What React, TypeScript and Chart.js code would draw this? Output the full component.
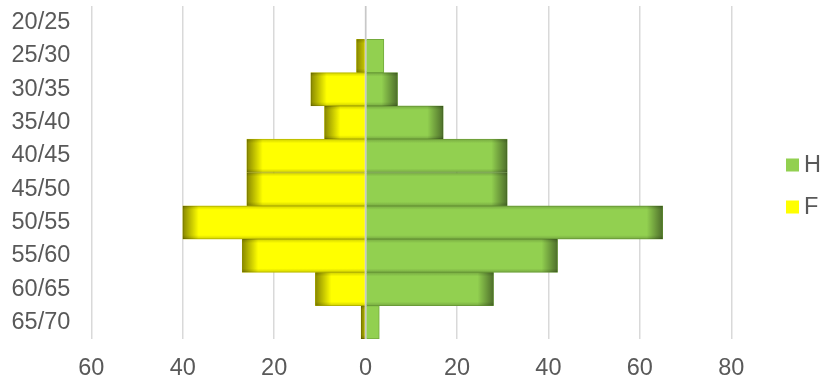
import React, { useEffect, useRef } from "react";
import { Chart, registerables } from "chart.js";

Chart.register(...registerables);

const ageGroups = ["20/25", "25/30", "30/35", "35/40", "40/45", "45/50", "50/55", "55/60", "60/65", "65/70"];
const hommes = [0, 4, 7, 17, 31, 31, 65, 42, 28, 3];
const femmes = [0, 2, 12, 9, 26, 26, 40, 27, 11, 1];
const seriesNames = ["H", "F"];
const seriesColors = ["#92D050", "#FFFF00"];
const seriesBorders = ["#74AA3C", "#C8C800"];
const xMin = -60;
const xMax = 80;
const xStep = 20;

const FONT = "'Liberation Sans', Arial, sans-serif";
const TEXT = "#595959";

const shadingPlugin = {
  id: "shading",
  afterDatasetsDraw(chart: any) {
    const ctx = chart.ctx;
    chart.data.datasets.forEach((_ds: any, di: number) => {
      const meta = chart.getDatasetMeta(di);
      meta.data.forEach((el: any) => {
        const { x, y, base, height } = el.getProps(["x", "y", "base", "height"], true);
        const left = Math.min(x, base);
        const right = Math.max(x, base);
        const w = right - left;
        if (w < 0.5) return;
        const top = y - height / 2;
        const h = height;
        const dir = x >= base ? -1 : 1;
        ctx.save();
        ctx.beginPath();
        ctx.rect(left, top, w, h);
        ctx.clip();
        if (!(dir === -1 && w < 20)) {
          const g = ctx.createLinearGradient(x, 0, x + dir * 16, 0);
          g.addColorStop(0, "rgba(0,0,0,0.47)");
          g.addColorStop(0.3, "rgba(0,0,0,0.33)");
          g.addColorStop(1, "rgba(0,0,0,0)");
          ctx.fillStyle = g;
          ctx.fillRect(left, top, w, h);
          const gt = ctx.createLinearGradient(0, top, 0, top + 4);
          gt.addColorStop(0, "rgba(0,0,0,0.18)");
          gt.addColorStop(1, "rgba(0,0,0,0)");
          ctx.fillStyle = gt;
          ctx.fillRect(left, top, w, 4);
          const gb = ctx.createLinearGradient(0, top + h, 0, top + h - 4);
          gb.addColorStop(0, "rgba(0,0,0,0.18)");
          gb.addColorStop(1, "rgba(0,0,0,0)");
          ctx.fillStyle = gb;
          ctx.fillRect(left, top + h - 4, w, 4);
        }
        ctx.restore();
      });
    });
    const xs = chart.scales.x;
    const area = chart.chartArea;
    const zx = xs.getPixelForValue(0);
    ctx.save();
    ctx.strokeStyle = "#C8C8C8";
    ctx.lineWidth = 1.5;
    ctx.beginPath();
    ctx.moveTo(zx, area.top);
    ctx.lineTo(zx, area.bottom);
    ctx.stroke();
    ctx.restore();
  },
  afterDraw(chart: any) {
    const ctx = chart.ctx;
    ctx.save();
    ctx.font = `23.5px ${FONT}`;
    ctx.textBaseline = "middle";
    ctx.textAlign = "left";
    const centers = [165, 207];
    seriesNames.forEach((name, i) => {
      ctx.fillStyle = seriesColors[i];
      ctx.fillRect(786, centers[i] - 6.5, 13, 13);
      ctx.fillStyle = TEXT;
      ctx.fillText(name, 804, centers[i] + 1);
    });
    ctx.restore();
  },
};

export default function App() {
  const ref = useRef<HTMLCanvasElement | null>(null);
  useEffect(() => {
    if (!ref.current) return;
    const chart = new Chart(ref.current, {
      type: "bar",
      data: {
        labels: ageGroups,
        datasets: [
          {
            label: seriesNames[0],
            data: hommes,
            backgroundColor: seriesColors[0],
            borderColor: seriesBorders[0],
            borderWidth: 1,
            barPercentage: 1,
            categoryPercentage: 1,
          },
          {
            label: seriesNames[1],
            data: femmes.map((v) => -v),
            backgroundColor: seriesColors[1],
            borderColor: seriesBorders[1],
            borderWidth: 1,
            barPercentage: 1,
            categoryPercentage: 1,
          },
        ],
      },
      options: {
        indexAxis: "y",
        animation: false,
        responsive: true,
        maintainAspectRatio: false,
        layout: { padding: { top: 6, right: 91.7, bottom: 0, left: 0 } },
        plugins: {
          legend: { display: false },
          tooltip: { enabled: false },
        },
        scales: {
          x: {
            stacked: true,
            min: xMin,
            max: xMax,
            ticks: {
              stepSize: xStep,
              padding: 15,
              color: TEXT,
              font: { family: FONT, size: 23.5 },
              callback: (v: any) => String(Math.abs(Number(v))),
            },
            grid: { color: "#D9D9D9", lineWidth: 1.5, drawTicks: false },
            border: { display: false },
            afterFit: (s: any) => {
              s.height = 42;
              s.paddingLeft = 0;
              s.paddingRight = 0;
            },
          },
          y: {
            stacked: true,
            ticks: {
              autoSkip: false,
              padding: 21,
              color: TEXT,
              font: { family: FONT, size: 23.5 },
            },
            grid: { display: false, drawTicks: false },
            border: { display: false },
            afterFit: (s: any) => {
              s.width = 91.3;
              s.paddingTop = 0;
              s.paddingBottom = 0;
            },
          },
        },
      },
      plugins: [shadingPlugin],
    });
    return () => chart.destroy();
  }, []);
  return (
    <div style={{ position: "absolute", left: 0, top: 0, width: 823, height: 381 }}>
      <canvas ref={ref} />
    </div>
  );
}
